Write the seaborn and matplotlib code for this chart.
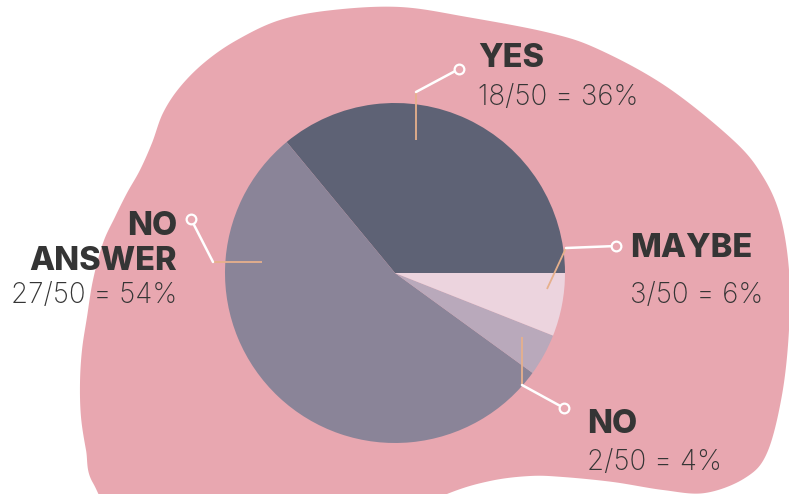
import numpy as np
import matplotlib
matplotlib.use("Agg")
import matplotlib.pyplot as plt
import seaborn as sns

# Survey answers (out of 50)
labels = ["YES", "NO\nANSWER", "NO", "MAYBE"]
counts = [18, 27, 2, 3]
total = 50
slice_colors = ["#5e6275", "#8a8498", "#b9a9bb", "#ecd4de"]

W, H = 789, 494
BLOB = "#e8a7b0"
TAN = "#e6b08c"
INK = "#353535"

sns.set_theme(style="white")
plt.rcParams["font.family"] = ["Inter", "DejaVu Sans"]


def flip(pts):
    # pixel coords (y down) -> axes coords (y up)
    pts = np.asarray(pts, dtype=float)
    return np.column_stack([pts[:, 0], H - pts[:, 1]])


def catmull_rom(pts, n=20):
    # closed smooth curve through the outline points
    out = []
    k = len(pts)
    for i in range(k):
        p0, p1, p2, p3 = pts[i - 1], pts[i], pts[(i + 1) % k], pts[(i + 2) % k]
        t = np.linspace(0, 1, n, endpoint=False)[:, None]
        out.append(0.5 * ((2 * p1) + (-p0 + p2) * t
                          + (2 * p0 - 5 * p1 + 4 * p2 - p3) * t ** 2
                          + (-p0 + 3 * p1 - 3 * p2 + p3) * t ** 3))
    return np.vstack(out)


# background blob outline (pixel coords)
blob_pts = flip([
    (400, 7), (467, 17), (550, 33), (600, 50), (667, 87), (733, 140),
    (762, 175), (780, 215), (789, 270), (789, 330), (782, 395), (767, 453),
    (745, 478), (705, 493), (663, 490), (613, 482), (563, 477), (530, 476),
    (490, 481), (447, 494), (380, 525), (250, 540), (130, 525), (93, 483),
    (86, 450), (81, 417), (80, 383), (82, 350), (87, 317), (93, 280),
    (103, 243), (115, 217), (127, 193), (140, 170), (152, 143), (163, 113),
    (180, 87), (205, 62), (237, 40), (280, 20), (333, 10),
])

fig = plt.figure(figsize=(W / 100, H / 100), dpi=100)
ax = fig.add_axes([0, 0, 1, 1])

outline = catmull_rom(blob_pts)
ax.fill(outline[:, 0], outline[:, 1], color=BLOB, lw=0, zorder=0)

cx, cy, r = 395, H - 273, 170
ax.pie(counts, colors=slice_colors, startangle=0, counterclock=True,
       center=(cx, cy), radius=r, wedgeprops=dict(linewidth=0),
       frame=True)

# leader lines: tan piece, white piece, hollow circle end
leaders = [
    [(416, 140), (416, 92), (459, 69)],
    [(547, 289), (566, 248), (616, 246)],
    [(522, 337), (522, 385), (564, 408)],
    [(262, 262), (213, 262), (191, 219)],
]
for pts in leaders:
    p = flip(pts)
    ax.plot(p[:2, 0], p[:2, 1], color=TAN, lw=1.3, zorder=3,
            solid_capstyle="butt")
    ax.plot(p[1:, 0], p[1:, 1], color="white", lw=1.8, zorder=4,
            solid_capstyle="round")
    ax.plot(p[2, 0], p[2, 1], "o", ms=7, mfc=BLOB, mec="white", mew=1.6,
            zorder=5)

# labels: x, name baseline, value baseline, alignment (pixel coords)
label_pos = [(478, 67, 105, "left"), (177, 270, 303, "right"),
             (587, 433, 470, "left"), (630, 257, 303, "left")]
for lab, n, (x, yb, yv, ha) in zip(labels, counts, label_pos):
    pct = round(100 * n / total)
    name_lines = lab.split("\n")
    for j, line in enumerate(reversed(name_lines)):
        ax.text(x, H - yb + j * 35, line, ha=ha, va="baseline",
                fontsize=23.5, fontweight="heavy", color=INK)
    ax.text(x, H - yv, f"{n}/{total} = {pct}%", ha=ha, va="baseline",
            fontsize=20, fontweight="light", color=INK)

ax.set_xlim(0, W)
ax.set_ylim(0, H)
ax.set_aspect("equal")
ax.axis("off")

fig.savefig("out.png", dpi=100, facecolor="white")
